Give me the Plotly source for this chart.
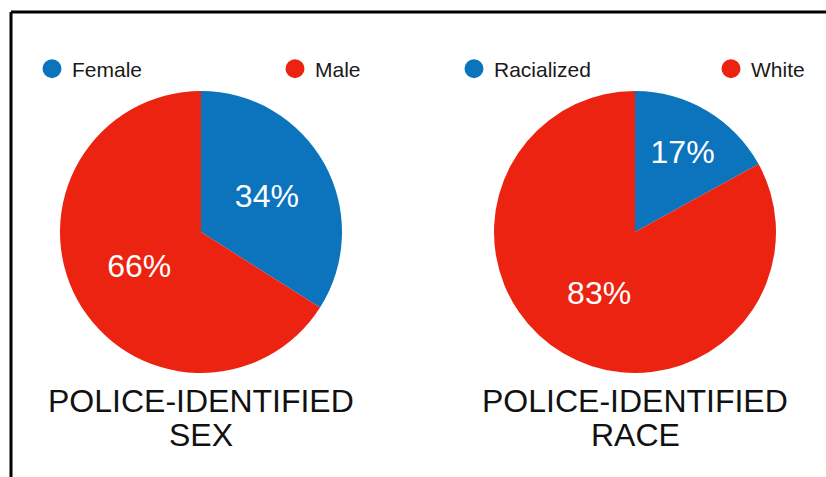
import plotly.graph_objects as go

W, H = 826, 477

sex_labels = ["Female", "Male"]
sex_values = [34, 66]
race_labels = ["Racialized", "White"]
race_values = [17, 83]
colors = ["#0b74bd", "#eb2310"]
title_top = ["POLICE-IDENTIFIED", "POLICE-IDENTIFIED"]
title_bottom = ["SEX", "RACE"]

FONT = "Liberation Sans, Arial, sans-serif"

def px_x(v):
    return v / W

def px_y(v):
    return 1 - v / H

R = 141
centers = [(201, 232), (635, 232)]
legend_left = [[32, 275], [454, 711]]

fig = go.Figure()
legend_layouts = {}
k = 0
for i, (labels, values) in enumerate([(sex_labels, sex_values), (race_labels, race_values)]):
    cx, cy = centers[i]
    fig.add_trace(go.Pie(
        labels=labels, values=values, sort=False, direction="clockwise", rotation=0,
        marker=dict(colors=colors, line=dict(width=0)),
        textinfo="percent", textposition="inside", insidetextorientation="horizontal",
        textfont=dict(color="white", size=32, family=FONT),
        domain=dict(x=[px_x(cx - R), px_x(cx + R)], y=[px_y(cy + R), px_y(cy - R)]),
        showlegend=False, hoverinfo="label+percent",
    ))
    for j, (lab, col) in enumerate(zip(labels, colors)):
        k += 1
        legname = "legend" if k == 1 else f"legend{k}"
        fig.add_trace(go.Scatter(
            x=[None], y=[None], mode="markers", name=lab,
            marker=dict(color=col, size=16, symbol="circle", line=dict(color=col, width=3)),
            legend=legname, showlegend=True,
        ))
        legend_layouts[legname] = dict(
            x=px_x(legend_left[i][j]), y=px_y(69), xanchor="left", yanchor="middle",
            itemsizing="trace", font=dict(size=21, color="#1a1a1a", family=FONT),
            bgcolor="rgba(0,0,0,0)", borderwidth=0)

annotations = []
for i in range(2):
    cx, cy = centers[i]
    annotations.append(dict(text=title_top[i], x=px_x(cx), y=px_y(401), xref="paper", yref="paper",
                            xanchor="center", yanchor="middle", showarrow=False,
                            font=dict(size=32, color="#111111", family=FONT)))
    annotations.append(dict(text=title_bottom[i], x=px_x(cx), y=px_y(435), xref="paper", yref="paper",
                            xanchor="center", yanchor="middle", showarrow=False,
                            font=dict(size=32, color="#111111", family=FONT)))

fig.update_layout(
    width=W, height=H,
    margin=dict(l=0, r=0, t=0, b=0),
    paper_bgcolor="white", plot_bgcolor="white",
    xaxis=dict(visible=False), yaxis=dict(visible=False),
    annotations=annotations,
    shapes=[
        dict(type="line", xref="paper", yref="paper", x0=px_x(11), x1=1, y0=px_y(12), y1=px_y(12),
             line=dict(color="black", width=3)),
        dict(type="line", xref="paper", yref="paper", x0=px_x(11), x1=px_x(11), y0=px_y(12), y1=0,
             line=dict(color="black", width=3)),
    ],
    **legend_layouts,
)

fig.write_html("out.html")
